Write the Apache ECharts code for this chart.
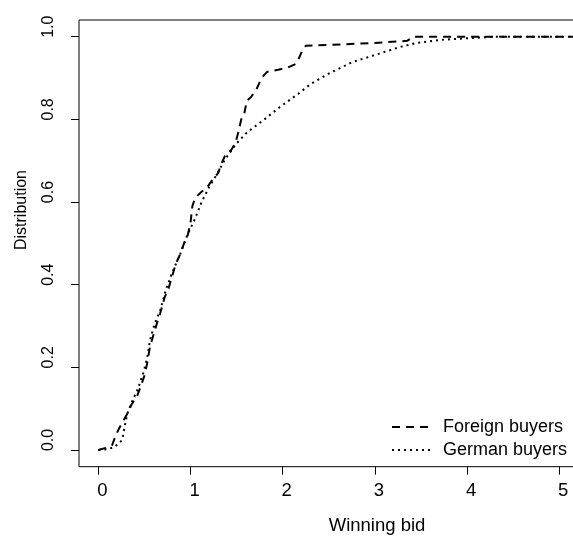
<!DOCTYPE html>
<html>
<head>
<meta charset="utf-8">
<script src="https://cdn.jsdelivr.net/npm/echarts@6/dist/echarts.min.js"></script>
<style>
html,body{margin:0;padding:0;background:#fff;}
#chart{width:573px;height:537px;}
</style>
</head>
<body>
<div id="chart"></div>
<script>
// ---- data ----
var seriesNames = ['Foreign buyers', 'German buyers'];
var foreignX = [0.00,0.08,0.15,0.18,0.22,0.27,0.32,0.36,0.42,0.47,0.50,0.53,0.56,0.60,0.64,0.67,0.72,0.76,0.80,0.84,0.88,0.93,0.97,1.00,1.02,1.05,1.12,1.18,1.24,1.30,1.33,1.38,1.44,1.49,1.52,1.55,1.58,1.61,1.66,1.72,1.77,1.83,1.95,2.05,2.15,2.18,2.21,2.25,2.50,3.00,3.35,3.42,5.30];
var foreignY = [0.000,0.005,0.012,0.030,0.050,0.070,0.090,0.110,0.130,0.160,0.180,0.210,0.250,0.280,0.310,0.330,0.370,0.390,0.420,0.450,0.470,0.500,0.520,0.550,0.590,0.610,0.625,0.635,0.655,0.670,0.690,0.715,0.725,0.745,0.770,0.800,0.810,0.845,0.855,0.875,0.900,0.915,0.920,0.925,0.935,0.950,0.965,0.978,0.980,0.985,0.990,1.000,1.000];
var germanX = [0.00,0.10,0.16,0.22,0.26,0.28,0.31,0.36,0.43,0.49,0.53,0.56,0.61,0.67,0.74,0.81,0.89,0.97,1.05,1.12,1.20,1.28,1.38,1.50,1.61,1.79,1.97,2.17,2.30,2.51,2.76,3.06,3.27,3.45,3.75,4.05,4.30,5.30];
var germanY = [0.000,0.002,0.006,0.015,0.025,0.050,0.085,0.115,0.148,0.188,0.223,0.265,0.305,0.337,0.393,0.434,0.475,0.523,0.560,0.600,0.635,0.665,0.705,0.742,0.768,0.798,0.830,0.862,0.885,0.912,0.939,0.960,0.975,0.985,0.993,0.997,1.000,1.000];
var xTicks = [0,1,2,3,4,5];
var yTicks = [0,0.2,0.4,0.6,0.8,1.0];
var xTitle = 'Winning bid';
var yTitle = 'Distribution';

function pairs(xs, ys){ return xs.map(function(x,i){ return [x, ys[i]]; }); }

var FONT = 'Liberation Sans, Arial, Helvetica, sans-serif';
var HF = 18.5; // horizontal text size
var VF = 16;   // vertical text size
var chart = echarts.init(document.getElementById('chart'), null, {renderer:'canvas'});
chart.setOption({
  animation: false,
  backgroundColor: '#fff',
  textStyle: {fontFamily: FONT},
  grid: {left: 79, top: 20, width: 518, height: 446.7, show: true, borderColor: '#000', borderWidth: 1,
         containLabel: false, outerBoundsMode: 'none'},
  xAxis: {
    type: 'value', min: -0.21, max: 5.41,
    axisLine: {show: false, onZero: false}, splitLine: {show: false},
    axisTick: {show: true, inside: false, length: 8, customValues: xTicks, lineStyle: {color: '#000', width: 1}},
    axisLabel: {customValues: xTicks, color: '#000', fontSize: HF, fontFamily: FONT, margin: 15, padding: [0,0,0,8]}
  },
  yAxis: {
    type: 'value', min: -0.0405, max: 1.0405,
    axisLine: {show: false, onZero: false}, splitLine: {show: false},
    axisTick: {show: true, inside: false, length: 8, customValues: yTicks, lineStyle: {color: '#000', width: 1}},
    axisLabel: {customValues: yTicks, color: '#000', fontSize: VF, fontFamily: FONT, margin: 22, rotate: 90,
                padding: [0,0,0,20],
                formatter: function(v){ return v.toFixed(1); }}
  },
  legend: {
    orient: 'vertical', left: 386, top: 413, itemWidth: 38, itemHeight: 12, itemGap: 5,
    itemStyle: {opacity: 0, borderWidth: 0},
    textStyle: {color: '#000', fontSize: 18, fontFamily: FONT, padding: [0,0,0,8]},
    data: seriesNames
  },
  series: [
    {name: seriesNames[0], type: 'line', data: pairs(foreignX, foreignY), showSymbol: false, symbol: 'none',
     lineStyle: {color: '#000', width: 2, type: [8,6]}, itemStyle: {color: '#000'}},
    {name: seriesNames[1], type: 'line', data: pairs(germanX, germanY), showSymbol: false, symbol: 'none',
     lineStyle: {color: '#000', width: 2, type: [2,4]}, itemStyle: {color: '#000'}}
  ],
  graphic: [
    {type: 'text', x: 377, y: 526, style: {text: xTitle, fontSize: HF, fontFamily: FONT, fill: '#000', align: 'center', verticalAlign: 'middle'}},
    {type: 'text', x: 22, y: 210, rotation: Math.PI/2, style: {text: yTitle, fontSize: VF, fontFamily: FONT, fill: '#000', align: 'center', verticalAlign: 'middle'}}
  ]
});
</script>
</body>
</html>
